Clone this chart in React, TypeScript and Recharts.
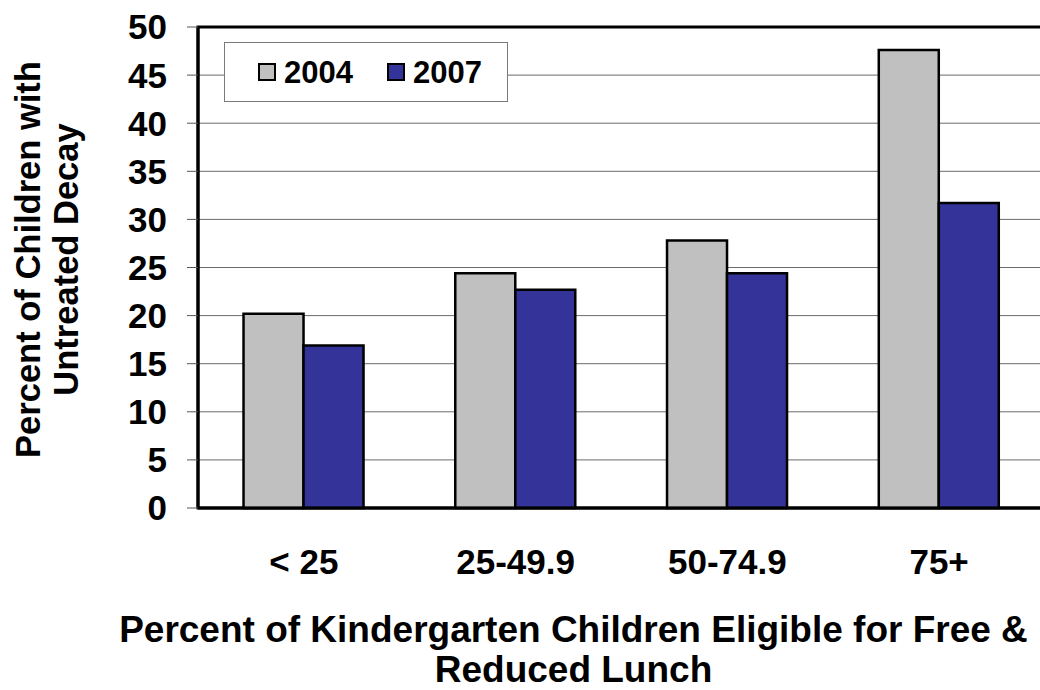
import React from 'react';
import { BarChart, Bar, XAxis, YAxis, CartesianGrid, Legend, ReferenceArea } from 'recharts';

const categories = ['< 25', '25-49.9', '50-74.9', '75+'];
const values2004 = [20.2, 24.4, 27.8, 47.6];
const values2007 = [16.9, 22.7, 24.4, 31.7];
const yTicks = [0, 5, 10, 15, 20, 25, 30, 35, 40, 45, 50];
const edgeTicks = [0, 1, 2, 3, 4];
const xTitleLines = ['Percent of Kindergarten Children Eligible for Free &', 'Reduced Lunch'];
const yTitleLines = ['Percent of Children with', 'Untreated Decay'];

const data = categories.map((c, i) => ({ cat: c, y2004: values2004[i], y2007: values2007[i] }));

const FONT = '"Liberation Sans", Arial, Helvetica, sans-serif';

const YTitle = (props: any) => {
  const vb = props.viewBox || {};
  const cy = vb.y + vb.height / 2 - 8;
  const xs = [vb.x + 40, vb.x + 78];
  return (
    <g>
      {yTitleLines.map((t, i) => (
        <text
          key={i}
          x={xs[i]}
          y={cy}
          transform={`rotate(-90, ${xs[i]}, ${cy})`}
          textAnchor="middle"
          fontFamily={FONT}
          fontWeight="bold"
          fontSize={34.5}
          fill="#000"
        >
          {t}
        </text>
      ))}
    </g>
  );
};

const XTitle = (props: any) => {
  const vb = props.viewBox || {};
  const cx = vb.x + vb.width / 2 - 48;
  const ys = [vb.y + 134, vb.y + 174];
  return (
    <g>
      {xTitleLines.map((t, i) => (
        <text
          key={i}
          x={cx}
          y={ys[i]}
          textAnchor="middle"
          fontFamily={FONT}
          fontWeight="bold"
          fontSize={37}
          fill="#000"
        >
          {t}
        </text>
      ))}
    </g>
  );
};

const LegendBox = (props: any) => {
  const payload = props.payload || [];
  return (
    <div
      style={{
        width: 284,
        height: 60,
        boxSizing: 'border-box',
        border: '1.5px solid #7a7a7a',
        background: '#fff',
        display: 'flex',
        alignItems: 'center',
        paddingLeft: 33,
        fontFamily: FONT,
        fontWeight: 'bold',
        fontSize: 31,
        color: '#000',
      }}
    >
      {payload.map((p: any, i: number) => (
        <div key={i} style={{ display: 'flex', alignItems: 'center', marginRight: i === 0 ? 34 : 0 }}>
          <span
            style={{
              display: 'inline-block',
              width: 18,
              height: 18,
              boxSizing: 'border-box',
              border: '2px solid #000',
              background: p.color,
              marginRight: 8,
            }}
          />
          <span style={{ lineHeight: '31px' }}>{p.value}</span>
        </div>
      ))}
    </div>
  );
};

export default function App() {
  return (
    <div style={{ position: 'absolute', left: 0, top: 0, width: 1040, height: 690, overflow: 'hidden', background: '#fff' }}>
      <BarChart
        width={1060}
        height={690}
        data={data}
        margin={{ top: 27, right: 15, left: 0, bottom: 0 }}
        barCategoryGap="21.5%"
        barGap={0}
      >
        <CartesianGrid vertical={false} stroke="#6b6b6b" strokeWidth={1} />
        <XAxis
          xAxisId="edges"
          type="number"
          domain={[0, 4]}
          ticks={edgeTicks}
          tickFormatter={() => ''}
          tickSize={11}
          tickLine={{ stroke: '#555', strokeWidth: 1 }}
          axisLine={false}
          height={0}
          allowDataOverflow
        />
        <XAxis
          dataKey="cat"
          height={182}
          tickLine={false}
          tickSize={0}
          tickMargin={41}
          axisLine={{ stroke: '#000', strokeWidth: 3 }}
          tick={{ fontFamily: FONT, fontWeight: 'bold', fontSize: 35, fill: '#000' }}
          interval={0}
          label={{ content: XTitle }}
        />
        <YAxis
          width={198}
          domain={[0, 50]}
          ticks={yTicks}
          interval={0}
          tickSize={11}
          tickMargin={20}
          tickLine={{ stroke: '#555', strokeWidth: 1 }}
          axisLine={{ stroke: '#000', strokeWidth: 3 }}
          tick={{ fontFamily: FONT, fontWeight: 'bold', fontSize: 35, fill: '#000' }}
          label={{ content: YTitle }}
        />
        <ReferenceArea y1={0} y2={50} fill="none" stroke="#000" strokeWidth={3} ifOverflow="visible" />
        <Bar dataKey="y2004" name="2004" fill="#C0C0C0" stroke="#000" strokeWidth={2.5} isAnimationActive={false} />
        <Bar dataKey="y2007" name="2007" fill="#333399" stroke="#000" strokeWidth={2.5} isAnimationActive={false} />
        <Legend
          layout="vertical"
          align="center"
          verticalAlign="middle"
          content={LegendBox}
          wrapperStyle={{ position: 'absolute', left: 224, top: 42, width: 284, height: 60 }}
        />
      </BarChart>
    </div>
  );
}
